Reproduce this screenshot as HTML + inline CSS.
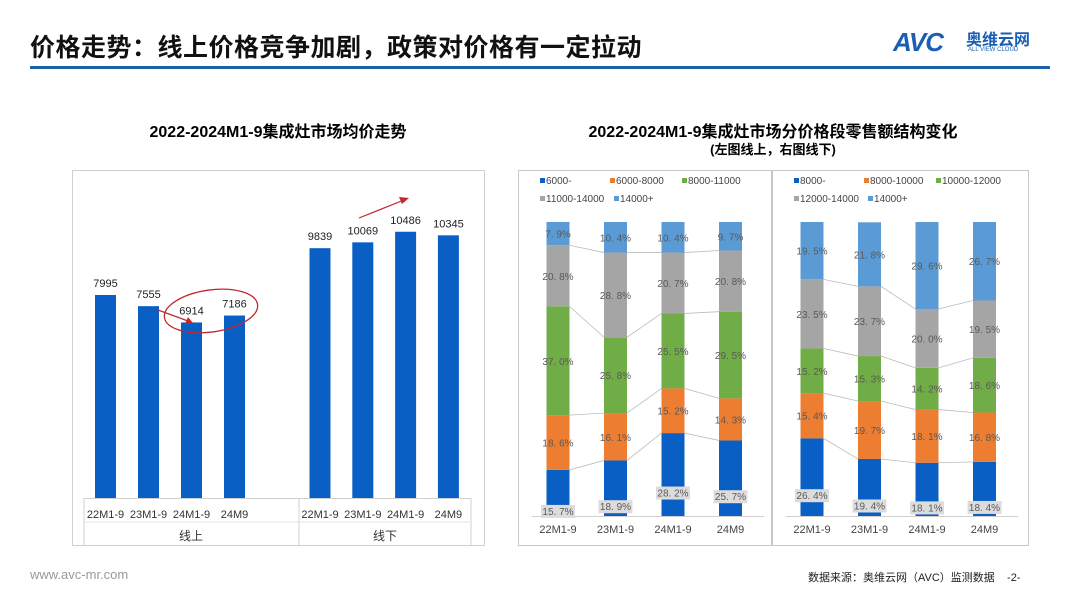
<!DOCTYPE html>
<html><head><meta charset="utf-8"><style>
body{margin:0;width:1080px;height:608px;background:#fff;overflow:hidden;font-family:"Liberation Sans","Noto Sans CJK SC",sans-serif;position:relative}
.abs{position:absolute}
</style></head><body>
<div class="abs" style="left:30px;top:28px;font-size:25px;font-weight:bold;color:#111;letter-spacing:0.5px">价格走势：线上价格竞争加剧，政策对价格有一定拉动</div>
<div class="abs" style="left:893px;top:27px;font-size:26px;font-weight:bold;font-style:italic;color:#1a5fb4;letter-spacing:-1px">AVC</div>
<div class="abs" style="left:966px;top:26px;font-size:16px;font-weight:bold;color:#1a5fb4">奥维云网</div>
<div class="abs" style="left:968px;top:47px;font-size:6px;color:#1a5fb4">ALL VIEW CLOUD</div>
<div class="abs" style="left:30px;top:66px;width:1020px;height:3px;background:#1d62a8"></div>
<div class="abs" style="left:72px;top:118px;width:412px;text-align:center;font-size:16px;font-weight:bold">2022-2024M1-9集成灶市场均价走势</div>
<div class="abs" style="left:518px;top:118px;width:510px;text-align:center;font-size:16px;font-weight:bold">2022-2024M1-9集成灶市场分价格段零售额结构变化</div>
<div class="abs" style="left:518px;top:139px;width:510px;text-align:center;font-size:13px;font-weight:bold">(左图线上，右图线下)</div>
<div class="abs" style="left:30px;top:567px;font-size:13px;color:#999">www.avc-mr.com</div>
<div class="abs" style="left:808px;top:569px;font-size:11px;color:#222">数据来源：奥维云网（AVC）监测数据 &nbsp; &nbsp;-2-</div>

<svg class="abs" style="left:0;top:0" width="1080" height="608" id="svg"></svg>
<script>
const avgCats=["22M1-9","23M1-9","24M1-9","24M9"];
const onlineVals=[7995,7555,6914,7186];
const offlineVals=[9839,10069,10486,10345];
const stackCats=["22M1-9","23M1-9","24M1-9","24M9"];
const onSeries=["6000-","6000-8000","8000-11000","11000-14000","14000+"];
const on1=[15.7,18.9,28.2,25.7];
const on2=[18.6,16.1,15.2,14.3];
const on3=[37.0,25.8,25.5,29.5];
const on4=[20.8,28.8,20.7,20.8];
const on5=[7.9,10.4,10.4,9.7];
const offSeries=["8000-","8000-10000","10000-12000","12000-14000","14000+"];
const off1=[26.4,19.4,18.1,18.4];
const off2=[15.4,19.7,18.1,16.8];
const off3=[15.2,15.3,14.2,18.6];
const off4=[23.5,23.7,20.0,19.5];
const off5=[19.5,21.8,29.6,26.7];
const colors=["#0a5fc4","#ed7d31","#70ad47","#a5a5a5","#5b9bd5"];

const svg=document.getElementById('svg');
const NS="http://www.w3.org/2000/svg";
function mk(tag,attrs,text){const e=document.createElementNS(NS,tag);for(const k in attrs)e.setAttribute(k,attrs[k]);if(text!==undefined)e.textContent=text;svg.appendChild(e);return e;}
const F='"Liberation Sans","Noto Sans CJK SC",sans-serif';

let e=mk('rect',{x:72.5,y:170.5,width:412,height:375,fill:'none',stroke:'#d0d0d0'});

const base=498, sc=203/7995;
const yA=v=>base-v*sc;
const xOn=i=>105.5+i*43, xOff=i=>320+i*42.8;
function avgBar(x,v,name){
  let r=mk('rect',{x:x-10.5,y:yA(v),width:21,height:base-yA(v),fill:'#0a5fc4'});
  
  let t=mk('text',{x:x,y:yA(v)-8,'text-anchor':'middle','font-size':11,'font-family':F,fill:'#222'},v);
  
}
onlineVals.forEach((v,i)=>avgBar(xOn(i),v,'online-bar-'+i));
offlineVals.forEach((v,i)=>avgBar(xOff(i),v,'offline-bar-'+i));
mk('line',{x1:84,y1:base+0.5,x2:471,y2:base+0.5,stroke:'#d0d0d0'});
mk('line',{x1:84,y1:base,x2:84,y2:545,stroke:'#d0d0d0'});
mk('line',{x1:299,y1:base,x2:299,y2:545,stroke:'#d0d0d0'});
mk('line',{x1:471,y1:base,x2:471,y2:545,stroke:'#d0d0d0'});
mk('line',{x1:84,y1:522,x2:471,y2:522,stroke:'#e4e4e4'});
avgCats.forEach((c,i)=>{
  let t=mk('text',{x:xOn(i),y:518,'text-anchor':'middle','font-size':11,'font-family':F,fill:'#333'},c);
  
  t=mk('text',{x:xOff(i),y:518,'text-anchor':'middle','font-size':11,'font-family':F,fill:'#333'},c);
  
});
e=mk('text',{x:191,y:540,'text-anchor':'middle','font-size':12,'font-family':F,fill:'#333'},'线上');

e=mk('text',{x:385,y:540,'text-anchor':'middle','font-size':12,'font-family':F,fill:'#333'},'线下');

e=mk('ellipse',{cx:211,cy:311,rx:47,ry:21,fill:'none',stroke:'#c0282d','stroke-width':1.3,transform:'rotate(-8 211 311)'});

mk('line',{x1:158,y1:310,x2:188,y2:321,stroke:'#c0282d','stroke-width':1.2});
mk('polygon',{points:'193,323 185,324 188,317',fill:'#c0282d'});
mk('line',{x1:359,y1:218,x2:404,y2:200,stroke:'#c0282d','stroke-width':1.2});
mk('polygon',{points:'409,198 402,204 399,197',fill:'#c0282d'});

function stack(x0,w,series,data,prefix){
  let f=mk('rect',{x:x0+0.5,y:170.5,width:w,height:375,fill:'none',stroke:'#c8c8c8'});
  
  const lx=[x0+22,x0+92,x0+164,x0+22,x0+96];
  const ly=[184,184,184,202,202];
  series.forEach((s,k)=>{
    let r=mk('rect',{x:lx[k],y:ly[k]-6,width:5,height:5,fill:colors[k]});
    
    let t=mk('text',{x:lx[k]+6,y:ly[k],'font-size':10,'font-family':F,fill:'#444'},s);
    
  });
  const top=222,bot=516,H=bot-top;
  const xs=i=>x0+40+i*57.5, bw=23;
  mk('line',{x1:x0+14,y1:bot+0.5,x2:x0+246,y2:bot+0.5,stroke:'#d0d0d0'});
  const cum=stackCats.map(()=>0);
  const bounds=[];
  data.forEach((arr,k)=>{
    const bk=[];
    arr.forEach((v,i)=>{
      const y1=bot-cum[i]/100*H, y2=bot-(cum[i]+v)/100*H;
      let r=mk('rect',{x:xs(i)-bw/2,y:y2,width:bw,height:y1-y2,fill:colors[k]});
      
      cum[i]+=v;bk.push(y2);
      const cy=(y1+y2)/2, lab=v.toFixed(1).replace('.','. ')+'%';
      if(k===0){mk('rect',{x:xs(i)-17,y:cy+12,width:34,height:13,fill:'#dcdcdc'});}
      let t=mk('text',{x:xs(i),y:k===0?cy+22:cy+4,'text-anchor':'middle','font-size':10,'font-family':F,fill:'#595959'},lab);
      
    });
    if(k<data.length-1)bounds.push(bk);
  });
  bounds.forEach(bk=>{for(let i=0;i<bk.length-1;i++)mk('line',{x1:xs(i)+bw/2,y1:bk[i],x2:xs(i+1)-bw/2,y2:bk[i+1],stroke:'#bbb','stroke-width':0.8});});
  stackCats.forEach((c,i)=>{let t=mk('text',{x:xs(i),y:533,'text-anchor':'middle','font-size':11,'font-family':F,fill:'#444'},c);
    });
}
stack(518,253,onSeries,[on1,on2,on3,on4,on5],'online-stack');
stack(772,256,offSeries,[off1,off2,off3,off4,off5],'offline-stack');
</script>
</body></html>
